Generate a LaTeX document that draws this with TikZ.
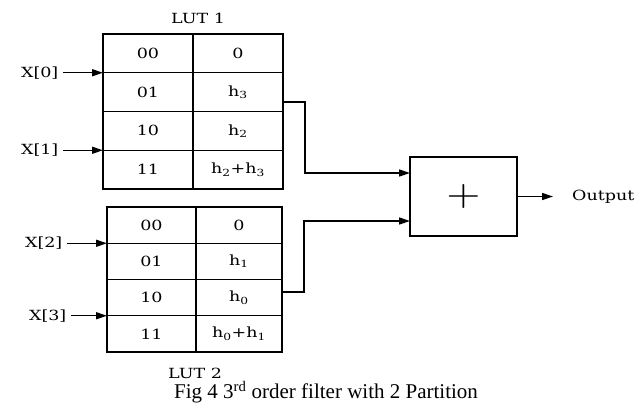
\documentclass[tikz,border=0pt]{standalone}
\usepackage{fontspec}
\setmainfont{Liberation Serif}
\newfontfamily\lutfam[FakeStretch=1.25]{DejaVu Serif}
\newcommand\lutfont{\fontsize{14}{16}\selectfont\lutfam}
\usetikzlibrary{arrows.meta, positioning}
\tikzstyle{cell} = [rectangle, draw, line width=1.4pt, minimum width=90pt, minimum height=38.75pt, inner sep=0pt, outer sep=0pt, font=\lutfont]
\tikzstyle{adder} = [rectangle, draw, line width=1.4pt, minimum width=107pt, minimum height=79pt, outer sep=0pt]
\tikzstyle{lbl} = [font=\lutfont, inner sep=4.5pt]
\tikzstyle{arrow} = [line width=1.4pt, -{Triangle[length=11pt,width=7pt]}]

\begin{document}
\begin{tikzpicture}[x=1pt, y=-1pt]
    \useasboundingbox (0,0) rectangle (636,408);

    % LUT 1
    \foreach \i/\k/\v in {0/00/0, 1/01/h\textsubscript{3}, 2/10/h\textsubscript{2}, 3/11/{h\textsubscript{2}+h\textsubscript{3}}} {
        \node (k1\i) [cell] at (148, {53.375+38.75*\i}) {\k};
        \node (v1\i) [cell] at (238, {53.375+38.75*\i}) {\v};
    }
    % LUT 2
    \foreach \i/\k/\v in {0/00/0, 1/01/h\textsubscript{1}, 2/10/h\textsubscript{0}, 3/11/{h\textsubscript{0}+h\textsubscript{1}}} {
        \node (k2\i) [cell, minimum width=89pt, minimum height=36.25pt] at (151.5, {225.125+36.25*\i}) {\k};
        \node (v2\i) [cell, minimum width=86pt, minimum height=36.25pt] at (239, {225.125+36.25*\i}) {\v};
    }
    \node (lut1) [lbl] at (198,18) {LUT 1};
    \node (lut2) [lbl] at (195,373) {LUT 2};

    % inputs
    \node (x0) [lbl, left=40pt of k10.south west] {X[0]};
    \node (x1) [lbl, left=40pt of k12.south west] {X[1]};
    \node (x2) [lbl, left=40pt of k20.south west] {X[2]};
    \node (x3) [lbl, left=36pt of k22.south west] {X[3]};
    \draw[arrow] (x0) -- (k10.south west);
    \draw[arrow] (x1) -- (k12.south west);
    \draw[arrow] (x2) -- (k20.south west);
    \draw[arrow] (x3) -- (k22.south west);

    % adder
    \node (add) [adder] at (463.5,196.5) {\scalebox{4.4}[3.6]{$+$}};
    \coordinate (in1) at ([yshift=23.5pt]add.west);
    \coordinate (in2) at ([yshift=-24.5pt]add.west);
    \draw[arrow] ([yshift=-10pt]v11.east) -- ++(22,0) |- (in1);
    \draw[arrow] ([yshift=5.6pt]v22.east) -- ++(22,0) |- (in2);

    \node (out) [lbl, inner sep=0pt, right=55pt of add] {Output};
    \draw[arrow, shorten >=19pt] (add) -- (out);

    \node (cap) [font=\fontsize{21}{23}\selectfont] at (326,392) {Fig 4 3\textsuperscript{rd} order filter with 2 Partition};
\end{tikzpicture}
\end{document}
